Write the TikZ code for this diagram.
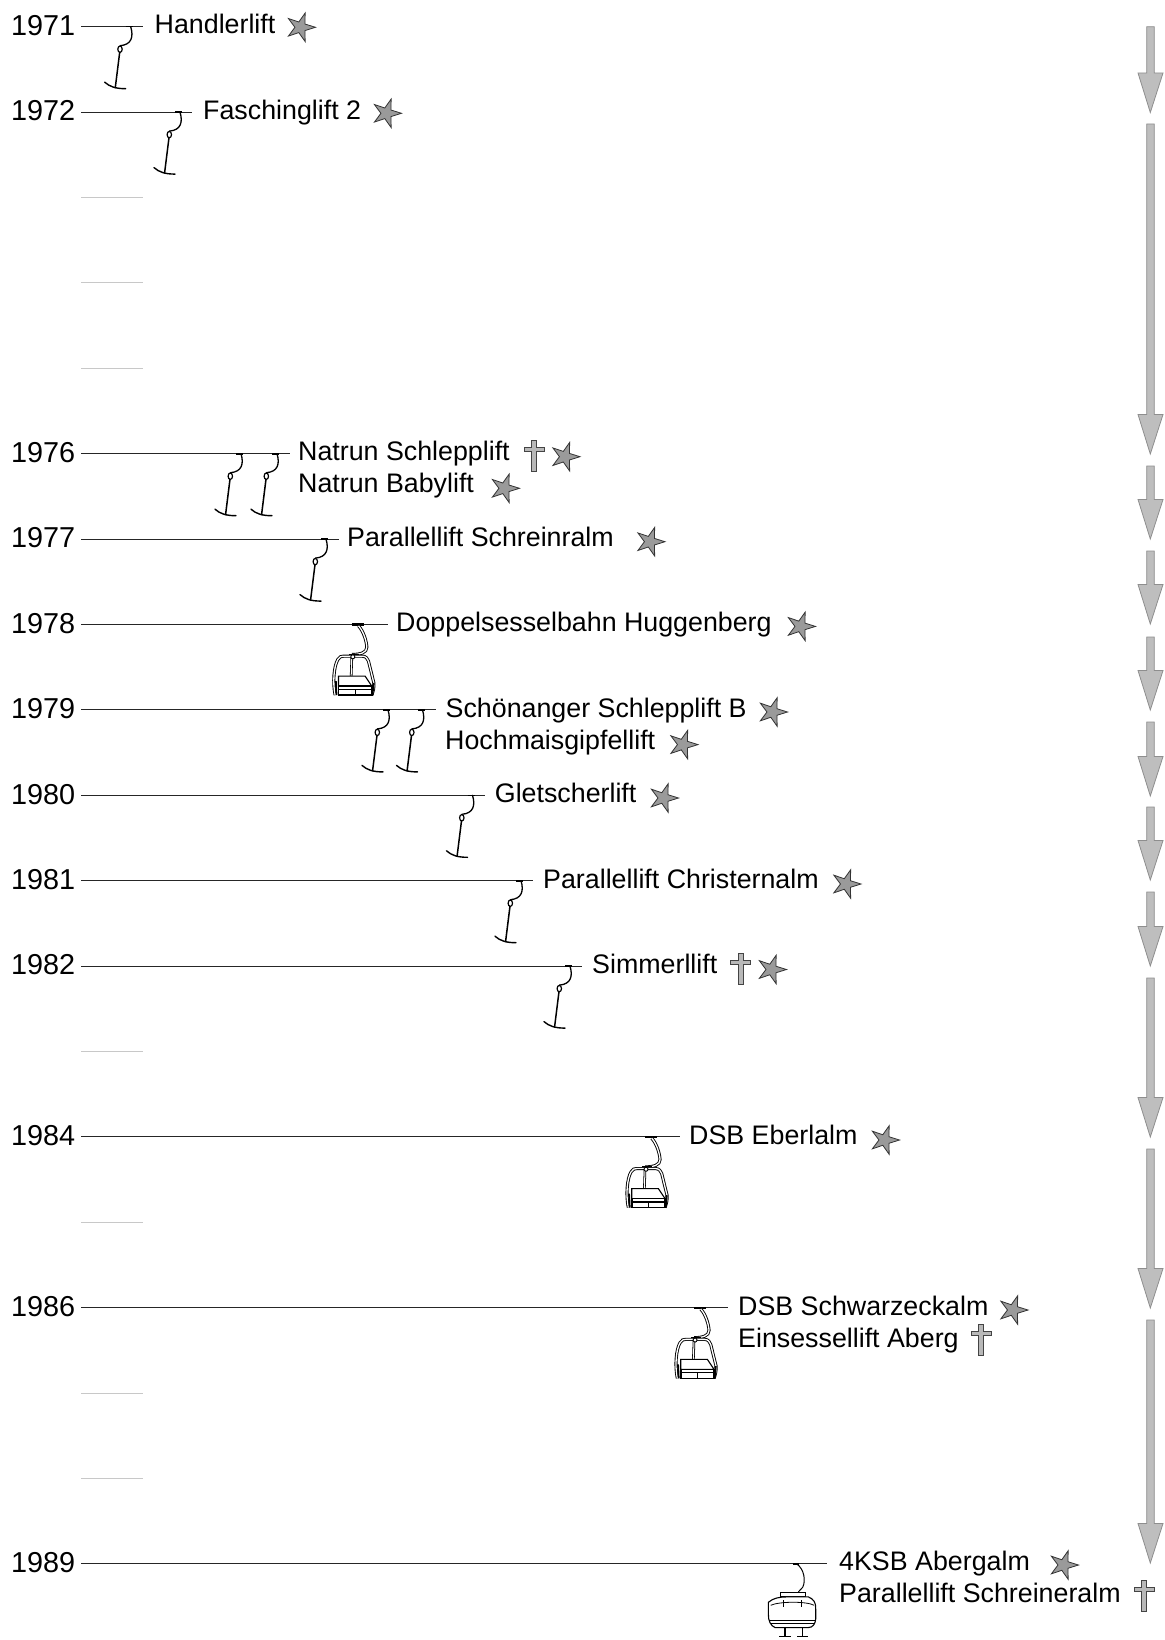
\documentclass[tikz,border=0pt]{standalone}
\usepackage{fontspec}
\setmainfont{Liberation Sans}
\usetikzlibrary{shapes.geometric}
\definecolor{starfill}{HTML}{9A9A9A}
\definecolor{stardraw}{HTML}{333333}
\definecolor{crossfill}{HTML}{B8B8B8}
\definecolor{crossdraw}{HTML}{444444}
\definecolor{arrfill}{HTML}{BEBEBE}
\definecolor{arrdraw}{HTML}{8E8E8E}
\definecolor{tickgray}{HTML}{C8C8C8}
\tikzset{
  x=1pt,y=-1pt,
  yearlabel/.style={anchor=base west,inner sep=0pt,font=\fontsize{28.8}{32}\selectfont},
  liftlabel/.style={anchor=base west,inner sep=0pt,font=\fontsize{26.8}{30}\selectfont},
  rope/.style={draw=black!85,line width=1.1pt},
  emptytick/.style={draw=tickgray,line width=1.1pt},
  starmark/.style={star,star points=5,star point ratio=2.7,shape border rotate=-18,minimum size=30pt,inner sep=0pt,outer sep=0pt,draw=stardraw,fill=starfill,line width=.8pt},
  timearrow/.style={draw=arrdraw,fill=arrfill,line width=.8pt},
  pics/tbar/.style={code={
    \draw[line width=1.6pt] (-5,0) -- (2,0);
    \draw[line width=1.3pt,line cap=round] (0,0) .. controls (3,10) and (1,18) .. (-10.5,19);
    \draw[line width=1.2pt,fill=white] (-10.7,22.5) ellipse [x radius=2.2,y radius=3.2];
    \draw[line width=1.5pt] (-11,25.5) -- (-15.5,61.5);
    \draw[line width=1.4pt,line cap=round] (-26,55.5) .. controls (-21,60) and (-15,62) .. (-5,62);
  }},
  pics/crossmark/.style={code={
    \draw[draw=crossdraw,fill=crossfill,line width=.8pt]
      (-2.5,0) -- (2.5,0) -- (2.5,7.5) -- (10,7.5) -- (10,11) -- (2.5,11) -- (2.5,31) -- (-2.5,31)
      -- (-2.5,11) -- (-10,11) -- (-10,7.5) -- (-2.5,7.5) -- cycle;
  }},
  pics/chair/.style={code={
    \begin{scope}[x=.3333pt,y=-.3333pt]
    \draw[line width=2.4pt] (-20,0) -- (15,0);
    \draw[line width=.9pt,double=white,double distance=1.3pt] (0,4) .. controls (15,20) and (24,50) .. (25,68) .. controls (25,85) and (5,90) .. (-20,90);
    \draw[line width=2pt] (-28,90) -- (0,90);
    \draw[line width=.9pt,double=white,double distance=1.3pt] (-70,212) .. controls (-78,175) and (-74,125) .. (-62,105) .. controls (-58,96) and (-50,95) .. (-45,95) -- (12,95) .. controls (22,95) and (28,103) .. (30,110) -- (46,175) .. controls (47,190) and (44,200) .. (40,212);
    \draw[line width=.8pt,double=white,double distance=1pt] (-20,97) -- (-22,155);
    \draw[line width=.9pt,fill=white] (-17,97) circle (6);
    \draw[line width=1.1pt,fill=white] (-60,155) -- (20,155) -- (40,185) -- (-60,185) -- cycle;
    \draw[line width=1.6pt,fill=white] (-60,185) -- (40,185) -- (40,212) -- (-60,212) -- cycle;
    \draw[line width=1.4pt] (-60,195) -- (40,195);
    \draw[line width=1pt] (-10,195) -- (-10,212);
    \draw[line width=1.8pt] (-68,170) -- (-66,212) (45,175) -- (42,212);
    \end{scope}
  }},
  pics/gondola/.style={code={
    \begin{scope}[x=.3333pt,y=-.3333pt]
    \draw[line width=2.4pt] (-12,0) -- (8,0);
    \draw[line width=1pt] (0,0) .. controls (22,15) and (28,50) .. (18,70) -- (5,84);
    \draw[line width=.9pt,fill=white] (-50,87) rectangle (25,99);
    \draw[line width=1.1pt,fill=white] (-85,115) .. controls (-70,102) and (-50,99) .. (-30,99) -- (35,99) .. controls (50,105) and (58,115) .. (57,135) -- (57,165) .. controls (56,180) and (48,191) .. (35,191) -- (-65,191) .. controls (-78,186) and (-86,170) .. (-85,150) -- cycle;
    \draw[line width=.8pt] (-78,124) .. controls (-50,112) and (30,112) .. (52,124);
    \draw[line width=.8pt] (-40,109) -- (-40,130) (15,109) -- (15,130);
    \draw[line width=1.1pt] (-84,169) -- (56,169) (-80,179) -- (52,179);
    \draw[line width=1.1pt] (-35,191) -- (-35,217) (18,191) -- (18,217);
    \draw[line width=1.3pt] (-52,217) -- (-18,217) (2,217) -- (35,217);
    \end{scope}
  }}
}
\begin{document}
\begin{tikzpicture}
\useasboundingbox (0,0) rectangle (1164,1640);
% empty-year ticks
\foreach \yy/\nm in {197.5/a,282.9/b,368.3/c,1051.5/d,1222.3/e,1393.1/f,1478.5/g}{
  \coordinate (t\nm s) at (81,\yy);
  \coordinate (t\nm e) at (143,\yy);
  \draw[emptytick] (t\nm s) -- (t\nm e);
}
% years and ropes
\foreach \yr/\yy/\xe in {1971/26.7/143,1972/112.1/192,1976/453.7/290,1977/539.1/339,1978/624.5/388,1979/709.9/436,1980/795.3/485,1981/880.7/533,1982/966.1/582,1984/1136.9/680,1986/1307.7/728,1989/1563.9/827}{
  \node[yearlabel] (y\yr) at (11,\yy+8.7) {\yr};
  \coordinate (r\yr s) at (81,\yy);
  \coordinate (r\yr e) at (\xe,\yy);
  \draw[rope] (r\yr s) -- (r\yr e);
}
% lifts
\pic at (130.7,26.7) {tbar};
\pic at (180,112.1) {tbar};
\pic at (241,453.7) {tbar};
\pic at (277,453.7) {tbar};
\pic at (326,539.1) {tbar};
\pic at (358.5,624.5) {chair};
\pic at (388,709.9) {tbar};
\pic at (422.5,709.9) {tbar};
\pic at (472.5,795.3) {tbar};
\pic at (521,880.7) {tbar};
\pic at (570,966.1) {tbar};
\pic at (651.7,1136.9) {chair};
\pic at (700.7,1307.7) {chair};
\pic at (796.7,1563.9) {gondola};
% labels
\node[liftlabel] (l1) at (154.5,34) {Handlerlift};
\node[liftlabel] (l2) at (203,119.5) {Faschinglift 2};
\node[liftlabel] (l3) at (298,460.6) {Natrun Schlepplift};
\node[liftlabel] (l4) at (298,492.6) {Natrun Babylift};
\node[liftlabel] (l5) at (347,546) {Parallellift Schreinralm};
\node[liftlabel] (l6) at (396,631) {Doppelsesselbahn Huggenberg};
\node[liftlabel] (l7) at (445.5,717) {Schönanger Schlepplift B};
\node[liftlabel] (l8) at (445,749) {Hochmaisgipfellift};
\node[liftlabel] (l9) at (494.7,802) {Gletscherlift};
\node[liftlabel] (l10) at (543,888) {Parallellift Christernalm};
\node[liftlabel] (l11) at (592,973) {Simmerllift};
\node[liftlabel] (l12) at (689,1144) {DSB Eberlalm};
\node[liftlabel] (l13) at (738,1315) {DSB Schwarzeckalm};
\node[liftlabel] (l14) at (738,1347) {Einsessellift Aberg};
\node[liftlabel] (l15) at (839,1570.5) {4KSB Abergalm};
\node[liftlabel] (l16) at (839,1602) {Parallellift Schreineralm};
% stars
\foreach \n/\sx/\sy in {1/300.5/27.3,2/386.5/113.3,3/565/456.7,4/504.5/488.3,5/650/541.7,6/800.5/626.4,7/772.5/712,8/683/744.6,9/663.5/798,10/846/884,11/771.5/969.5,12/884.5/1140,13/1013/1310,14/1063.5/1565}{
  \node[starmark] (s\n) at (\sx,\sy) {};
}
% crosses
\pic at (534,440) {crossmark};
\pic at (740.5,953) {crossmark};
\pic at (981,1324) {crossmark};
\pic at (1144,1580) {crossmark};
% time arrows
\foreach \t/\b in {26.7/112.5,124/454,466/539,551/624,637/710,722/796,807/880,892/966,978/1137,1149/1308,1320/1563}{
  \draw[timearrow] (1146.7,\t) -- (1154.3,\t) -- (1154.3,\b-39.5) -- (1163,\b-39.5) -- (1150.3,\b) -- (1138,\b-39.5) -- (1146.7,\b-39.5) -- cycle;
}
\end{tikzpicture}
\end{document}
